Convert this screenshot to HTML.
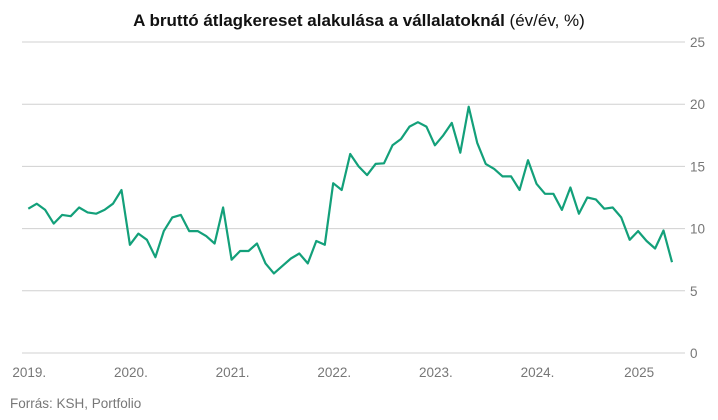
<!DOCTYPE html>
<html><head><meta charset="utf-8"><style>
body{margin:0;background:#fff;font-family:"Liberation Sans",sans-serif;}
svg text{font-family:"Liberation Sans",sans-serif;}
</style></head><body>
<svg width="718" height="415">
<text x="359" y="26" text-anchor="middle" font-size="17" fill="#111"><tspan font-weight="bold">A bruttó átlagkereset alakulása a vállalatoknál</tspan> (év/év, %)</text>
<g id="grid"></g><g id="xlab"></g>
<path id="line" fill="none" stroke="#13a07a" stroke-width="2.2" stroke-linejoin="round"/>
<text x="10" y="408" font-size="13.5" fill="#777">Forrás: KSH, Portfolio</text>
</svg>
<script>
const values=[11.6,12.0,11.5,10.4,11.1,11.0,11.7,11.3,11.2,11.5,12.0,13.1,
8.7,9.6,9.1,7.7,9.8,10.9,11.1,9.8,9.8,9.4,8.8,11.7,
7.5,8.2,8.2,8.8,7.2,6.4,7.0,7.6,8.0,7.2,9.0,8.7,
13.65,13.1,16.0,15.0,14.3,15.2,15.25,16.7,17.2,18.2,18.55,18.2,
16.7,17.5,18.5,16.1,19.8,16.9,15.2,14.8,14.2,14.2,13.1,15.5,
13.6,12.8,12.8,11.5,13.3,11.2,12.5,12.35,11.6,11.7,10.9,9.1,
9.8,9.0,8.4,9.85,7.3];
const yTicks=[0,5,10,15,20,25];
const xLabels=["2019.","2020.","2021.","2022.","2023.","2024.","2025"];
const x=i=>28.3+i*8.47;
const y=v=>353-v*12.44;
const NS="http://www.w3.org/2000/svg";
const g=document.getElementById('grid');
yTicks.forEach(t=>{
 const l=document.createElementNS(NS,'line');
 l.setAttribute('x1',22);l.setAttribute('x2',685);l.setAttribute('y1',y(t));l.setAttribute('y2',y(t));
 l.setAttribute('stroke','#d0d0d0');l.setAttribute('stroke-width','1');
 
 
 g.appendChild(l);
 const tx=document.createElementNS(NS,'text');
 tx.setAttribute('x',690);tx.setAttribute('y',y(t)+5);tx.setAttribute('font-size','13.5');tx.setAttribute('fill','#777');
 tx.textContent=t;
 
 
 g.appendChild(tx);
});
const xl=document.getElementById('xlab');
xLabels.forEach((s,k)=>{
 const tx=document.createElementNS(NS,'text');
 tx.setAttribute('x',x(k*12)+1);tx.setAttribute('y',377);tx.setAttribute('font-size','13.5');tx.setAttribute('fill','#777');tx.setAttribute('text-anchor','middle');
 tx.textContent=s;
 
 
 xl.appendChild(tx);
});
document.getElementById('line').setAttribute('d',values.map((v,i)=>(i?'L':'M')+x(i).toFixed(1)+','+y(v).toFixed(1)).join(''));
</script>
</body></html>
